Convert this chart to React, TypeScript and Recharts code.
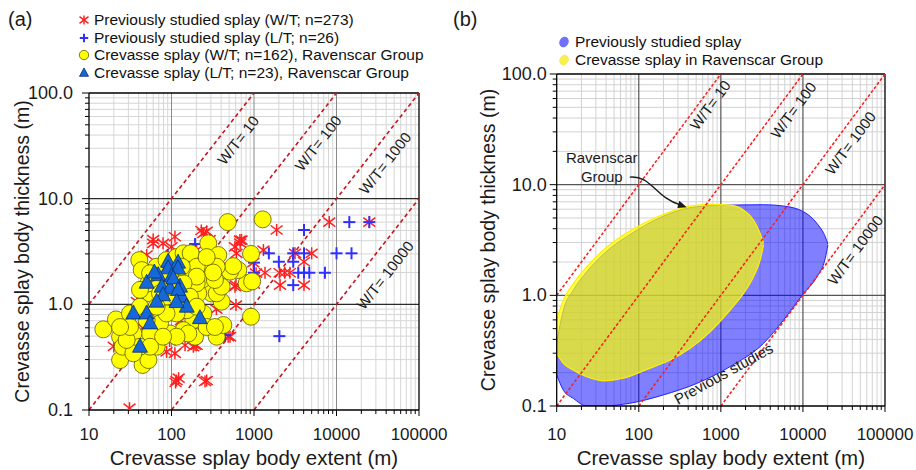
import React from 'react'
import {
  ScatterChart, ComposedChart, Scatter, Area, XAxis, YAxis, CartesianGrid,
  ReferenceLine, ReferenceDot, Legend, Label,
} from 'recharts'

const FONT = '"Liberation Sans", Arial, Helvetica, sans-serif'

// axes
const xDecades = [10, 100, 1000, 10000, 100000]
const xTickLabels = ['10', '100', '1000', '10000', '100000']
const yDecades = [0.1, 1, 10, 100]
const yTickLabels = ['0.1', '1.0', '10.0', '100.0']
const minorSteps = [2, 3, 4, 5, 6, 7, 8, 9]
const xMinor = xDecades.slice(0, -1).flatMap(d => minorSteps.map(m => d * m))
const yMinor = yDecades.slice(0, -1).flatMap(d => minorSteps.map(m => d * m))
const xTicks = [...xDecades, ...xMinor].sort((a, b) => a - b)
const yTicks = [...yDecades, ...yMinor].sort((a, b) => a - b)

// W/T ratio lines and their labels
const wtRatios = [10, 100, 1000, 10000]
const wtLabels = ['W/T= 10', 'W/T= 100', 'W/T= 1000', 'W/T= 10000']
const leftWtLabelX = [640, 5970, 38700, 38700]
const leftWtLabelY = [35.8, 33.6, 21.7, 1.89]
const rightWtLabelX = [741, 7620, 37800, 43400]
const rightWtLabelY = [52.4, 47.2, 23.8, 2.57]

// (a) previously studied splay, W/T
const prevWtExtent = [31, 115, 122, 112, 255, 267, 20, 87, 110, 146, 193, 184, 202, 512, 486, 605, 38, 605, 588, 1000,
  1360, 1060, 1300, 707, 675, 680, 588, 613, 1880, 2040, 2360, 2720, 3140, 5000, 4036, 2070, 4036, 8170, 25000, 980,
  60, 79, 110, 100, 243, 230, 267, 50, 55, 202, 31.4, 50, 60, 389, 290,
  120, 150, 90, 200, 70, 130, 250, 300, 170, 60, 45, 95, 350, 220, 140]
const prevWtThick = [0.104, 0.19, 0.2, 0.182, 0.186, 0.19, 0.4, 0.355, 0.344, 0.41, 0.41, 0.397, 0.41, 0.494, 0.494, 0.985, 1.06, 1.52, 1.47, 1.55,
  1.99, 1.97, 3.26, 4.06, 4.06, 3.8, 3.5, 3.04, 5.05, 1.99, 1.99, 1.99, 3.04, 3.04, 2.53, 1.52, 1.52, 6.0, 6.0, 2.48,
  3.78, 3.78, 4.36, 3.5, 4.7, 5.0, 4.9, 2.93, 2.27, 3.26, 0.355, 0.397, 4.1, 2.62, 4.1,
  2.2, 1.8, 1.5, 1.2, 0.9, 0.7, 0.6, 1.4, 2.6, 1.2, 0.6, 0.45, 0.9, 2.0, 1.0]

// (a) previously studied splay, L/T
const prevLtExtent = [193, 1000, 1000, 1514, 2000, 2990, 2990, 4036, 4036, 3440, 4036, 4680, 2990, 7240, 10000, 15200,
  14300, 25000, 2030, 445, 240, 330, 130, 520, 90, 300]
const prevLtThick = [3.72, 2.48, 1.99, 3.04, 2.53, 3.04, 2.53, 5.05, 3.04, 1.99, 1.99, 1.99, 1.52, 1.99, 3.04, 3.04,
  6.0, 6.0, 0.5, 0.51, 2.6, 1.75, 1.5, 2.2, 2.9, 0.62]

// (a) Ravenscar Group, W/T
const ravWtExtent = [14.9, 21.2, 23.8, 23.8, 25.6, 44.6, 52.5, 40.7, 43.5, 66, 193, 353, 425, 480, 1274, 920, 920, 815,
  950, 645, 512, 560, 405, 279, 369, 167, 232, 279, 306, 211, 243, 184, 153, 140, 96, 72.6, 55, 34.5, 31.4, 41.5,
  55, 52.5, 72.6, 87, 115, 115, 87, 66, 87, 115, 140, 171, 202, 153, 202, 353, 405, 336, 353, 320, 267, 202, 140,
  167, 202, 267, 336, 160, 115, 79, 41.5, 34.5, 28.6, 50, 66, 55, 31.4, 23.8, 96, 96, 133, 72.6, 41.5, 55]
const ravWtThick = [0.58, 0.72, 0.494, 0.297, 0.397, 0.267, 0.297, 2.62, 2.11, 0.397, 0.494, 0.494, 0.637, 6.0, 6.37, 3.0, 0.763, 1.58,
  1.65, 2.11, 2.04, 2.3, 1.06, 3.78, 2.93, 2.93, 2.44, 1.7, 1.27, 1.27, 0.82, 0.71, 0.88, 0.57, 0.53, 0.66, 0.53, 0.53, 0.82, 0.95,
  1.27, 1.58, 1.58, 1.18, 1.18, 0.82, 0.82, 2.27, 2.62, 2.8, 3.04, 3.04, 2.27, 1.83, 1.58, 1.27, 1.47, 1.7, 2.27, 2.0, 2.8, 1.83, 1.58,
  1.18, 0.95, 0.61, 0.61, 0.53, 0.494, 0.494, 0.397, 0.344, 0.46, 0.71, 0.95, 1.97, 0.61, 0.61, 1.47, 1.97, 2.27, 1.27, 1.37, 0.397]

// (a) Ravenscar Group, L/T
const ravLtExtent = [91, 120, 91, 120, 69, 100, 50, 76, 96, 127, 79, 133, 66, 153, 34.5, 50, 55, 221, 41.5, 105, 120, 62, 115]
const ravLtThick = [2.53, 2.48, 2.19, 2.19, 1.89, 1.83, 1.6, 1.47, 1.42, 1.47, 1.22, 1.18, 1.06, 0.95, 0.82, 0.82, 0.66, 0.74, 0.397, 1.76, 1.37, 2.0, 1.05]

// (b) outlines of the two fields: extent, then upper / lower thickness (null = not on this outline)
const fieldExtent = [10, 12.06, 15.97, 23.2, 37.1, 64.9, 78.4, 125, 200, 241, 422, 509, 740, 1298, 1888, 2500, 3013, 3311, 5805, 10180, 14800, 18700, 20160]
const ravHigh = [0.598, 0.907, 1.28, 1.81, 2.57, 3.5, null, 4.62, null, 5.69, 6.41, null, 6.63, 6.54, 5.9, 4.79, 3.63, 2.95, null, null, null, null, null]
const ravLow = [0.299, 0.243, 0.211, 0.184, 0.169, 0.178, null, 0.214, null, 0.26, 0.332, null, 0.469, 0.737, 1.04, 1.47, 2.08, 2.85, null, null, null, null, null]
const prevHigh = [0.368, 0.737, 1.12, 1.63, 2.36, null, 3.55, null, 5.2, null, null, 6.32, null, 6.54, null, null, null, 6.59, 6.41, 5.69, 4.47, 3.39, 2.91]
const prevLow = [0.191, 0.139, 0.117, 0.1, 0.1, null, 0.106, null, 0.126, null, null, 0.16, null, 0.227, null, null, null, 0.368, 0.598, 1.04, 1.47, 2.16, 2.85]

const leftLegendNames = [
  'Previously studied splay (W/T; n=273)',
  'Previously studied splay (L/T; n=26)',
  'Crevasse splay (W/T; n=162), Ravenscar Group',
  'Crevasse splay (L/T; n=23), Ravenscar Group',
]
const rightLegendNames = ['Previously studied splay', 'Crevasse splay in Ravenscar Group']

const pts = (xs: number[], ys: number[]) => xs.map((x, i) => ({ x, y: ys[i] }))
const fieldData = fieldExtent.map((x, i) => ({
  x,
  prev: prevHigh[i] == null ? undefined : [prevLow[i], prevHigh[i]],
  rav: ravHigh[i] == null ? undefined : [ravLow[i], ravHigh[i]],
}))

const wtSegment = (r: number) => {
  const x0 = Math.max(10, r * 0.1)
  const x1 = Math.min(100000, r * 100)
  return [{ x: x0, y: x0 / r }, { x: x1, y: x1 / r }]
}

// markers
const Star = ({ cx, cy, s = 1 }: any) => (
  <g stroke="#ff2020" strokeWidth={1.5}>
    <line x1={cx} y1={cy - 6 * s} x2={cx} y2={cy + 6 * s} />
    <line x1={cx - 6 * s} y1={cy - 4.5 * s} x2={cx + 6 * s} y2={cy + 4.5 * s} />
    <line x1={cx - 6 * s} y1={cy + 4.5 * s} x2={cx + 6 * s} y2={cy - 4.5 * s} />
  </g>
)
const Plus = ({ cx, cy, s = 1 }: any) => (
  <g stroke="#2f2fff" strokeWidth={2}>
    <line x1={cx - 6 * s} y1={cy} x2={cx + 6 * s} y2={cy} />
    <line x1={cx} y1={cy - 6 * s} x2={cx} y2={cy + 6 * s} />
  </g>
)
const Circle = ({ cx, cy, s = 1 }: any) => (
  <circle cx={cx} cy={cy} r={8.5 * s} fill="#ffff00" stroke="#5e5a00" strokeWidth={0.8} />
)
const Tri = ({ cx, cy, s = 1 }: any) => (
  <polygon
    points={`${cx},${cy - 8.5 * s} ${cx + 7.5 * s},${cy + 5.5 * s} ${cx - 7.5 * s},${cy + 5.5 * s}`}
    fill="#1668d8" stroke="#0b2d66" strokeWidth={0.8}
  />
)
const leftIcons = [Star, Plus, Circle, Tri]
const leftIconScale = [0.75, 0.7, 0.55, 0.6]
const rightIconColors = ['#7070ff', '#f7ef50']

// ticks
const makeXTick = (gap: number) => ({ x, y, payload }: any) => {
  const i = xDecades.indexOf(payload.value)
  return (
    <g>
      <line x1={x} x2={x} y1={y} y2={y + (i >= 0 ? 6 : 4)} stroke="#000" />
      {i >= 0 && (
        <text x={x} y={y + gap} textAnchor="middle" fontSize={17} fill="#1a1a1a" fontFamily={FONT}>
          {xTickLabels[i]}
        </text>
      )}
    </g>
  )
}
const makeYTick = (gap: number) => ({ x, y, payload }: any) => {
  const i = yDecades.indexOf(payload.value)
  return (
    <g>
      <line x1={x - (i >= 0 ? 7 : 4)} x2={x} y1={y} y2={y} stroke="#000" />
      {i >= 0 && (
        <text x={x - gap} y={y + 6} textAnchor="end" fontSize={18} fill="#1a1a1a" fontFamily={FONT}>
          {yTickLabels[i]}
        </text>
      )}
    </g>
  )
}

const XTitle = ({ viewBox, dy }: any) => (
  <text x={viewBox.x + viewBox.width / 2} y={viewBox.y + dy} textAnchor="middle" fontSize={20.5} fill="#1a1a1a" fontFamily={FONT}>
    Crevasse splay body extent (m)
  </text>
)
const YTitle = ({ viewBox, dx }: any) => {
  const cx = viewBox.x + dx
  const cy = viewBox.y + viewBox.height / 2
  return (
    <text x={cx} y={cy} transform={`rotate(-90 ${cx} ${cy})`} textAnchor="middle" dominantBaseline="central"
      fontSize={19.5} fill="#1a1a1a" fontFamily={FONT}>
      Crevasse splay body thickness (m)
    </text>
  )
}

const wtText = (label: string, angle: number) => (p: any) => (
  <text x={p.cx} y={p.cy} transform={`rotate(${-angle} ${p.cx} ${p.cy})`} textAnchor="middle"
    dominantBaseline="central" fontSize={15} fill="#1a1a1a" fontFamily={FONT}>
    {label}
  </text>
)

const LeftLegend = () => (
  <div style={{ fontFamily: FONT, fontSize: 15.5, color: '#111', lineHeight: '17.7px' }}>
    {leftLegendNames.map((name, i) => {
      const Icon = leftIcons[i]
      return (
        <div key={name} style={{ display: 'flex', alignItems: 'center', whiteSpace: 'nowrap' }}>
          <svg width={14} height={14} style={{ marginRight: 3 }}>
            <Icon cx={7} cy={7} s={leftIconScale[i]} />
          </svg>
          <span>{name}</span>
        </div>
      )
    })}
  </div>
)

const RightLegend = () => (
  <div style={{ fontFamily: FONT, fontSize: 15.5, color: '#111', lineHeight: '18px' }}>
    {rightLegendNames.map((name, i) => (
      <div key={name} style={{ display: 'flex', alignItems: 'center', whiteSpace: 'nowrap' }}>
        <svg width={13} height={14} style={{ marginRight: 4 }}>
          <ellipse cx={6} cy={7} rx={4.5} ry={5.5} transform="rotate(30 6 7)" fill={rightIconColors[i]} />
        </svg>
        <span>{name}</span>
      </div>
    ))}
  </div>
)

const RavenscarNote = ({ cx, cy }: any) => (
  <g fontFamily={FONT} fontSize={15} fill="#1a1a1a">
    <text x={cx} y={cy - 4} textAnchor="middle">Ravenscar</text>
    <text x={cx} y={cy + 15} textAnchor="middle">Group</text>
    <path d={`M ${cx + 28} ${cy + 10} C ${cx + 50} ${cy + 8}, ${cx + 53} ${cy + 30}, ${cx + 79} ${cy + 38}`}
      fill="none" stroke="#1a1a1a" strokeWidth={1.4} />
    <polygon points={`${cx + 85} ${cy + 40} ${cx + 75.6} ${cy + 40.8} ${cx + 77.6} ${cy + 33.6}`} fill="#1a1a1a" />
  </g>
)
const PreviousNote = ({ cx, cy }: any) => (
  <text x={cx} y={cy} transform={`rotate(-29 ${cx} ${cy})`} textAnchor="middle" dominantBaseline="central"
    fontSize={15} fill="#1a1a1a" fontFamily={FONT}>
    Previous studies
  </text>
)

const xAxisProps = {
  dataKey: 'x', type: 'number' as const, scale: 'log' as const, domain: [10, 100000], ticks: xTicks,
  interval: 0, tickLine: false, tickSize: 0, tickMargin: 0, height: 30, allowDataOverflow: true,
  axisLine: { stroke: '#000', strokeWidth: 1.3 },
}
const yAxisProps = {
  dataKey: 'y', type: 'number' as const, scale: 'log' as const, domain: [0.1, 100], ticks: yTicks,
  interval: 0, tickLine: false, tickSize: 0, tickMargin: 0, width: 60, allowDataOverflow: true,
  axisLine: { stroke: '#000', strokeWidth: 1.3 },
}

function LeftPanel() {
  return (
    <ScatterChart width={460} height={470} margin={{ top: 93, right: 41, bottom: 30, left: 29 }} style={{ fontFamily: FONT }}>
      <CartesianGrid stroke="#d6d6d6" horizontalValues={yMinor} verticalValues={xMinor} />
      <CartesianGrid stroke="#8a8a8a" horizontal={false} verticalValues={[100, 1000, 10000]} />
      <CartesianGrid stroke="#2a2a2a" strokeWidth={1.4} vertical={false} horizontalValues={[1, 10]} />
      <XAxis {...xAxisProps} tick={makeXTick(30)}>
        <Label content={<XTitle dy={55} />} />
      </XAxis>
      <YAxis {...yAxisProps} tick={makeYTick(16)}>
        <Label content={<YTitle dx={-7} />} />
      </YAxis>
      <ReferenceLine y={100} stroke="#000" strokeWidth={1.3} />
      <ReferenceLine x={100000} stroke="#000" strokeWidth={1.3} />
      <Scatter name={leftLegendNames[0]} data={pts(prevWtExtent, prevWtThick)} shape={Star} isAnimationActive={false} />
      <Scatter name={leftLegendNames[1]} data={pts(prevLtExtent, prevLtThick)} shape={Plus} isAnimationActive={false} />
      <Scatter name={leftLegendNames[2]} data={pts(ravWtExtent, ravWtThick)} shape={Circle} isAnimationActive={false} />
      <Scatter name={leftLegendNames[3]} data={pts(ravLtExtent, ravLtThick)} shape={Tri} isAnimationActive={false} />
      {wtRatios.map(r => (
        <ReferenceLine key={r} segment={wtSegment(r)} stroke="#c8141c" strokeWidth={1.6} strokeDasharray="4 3" />
      ))}
      {wtLabels.map((t, i) => (
        <ReferenceDot key={t} x={leftWtLabelX[i]} y={leftWtLabelY[i]} r={1} shape={wtText(t, 52)} />
      ))}
      <Legend layout="vertical" align="center" verticalAlign="middle" content={<LeftLegend />}
        wrapperStyle={{ left: 77, top: 11, width: 'auto' }} />
    </ScatterChart>
  )
}

function RightPanel() {
  return (
    <ComposedChart width={456} height={470} data={fieldData} margin={{ top: 74, right: 31, bottom: 34, left: 36.7 }}
      style={{ fontFamily: FONT }}>
      <CartesianGrid stroke="#d2d2d2" horizontalValues={yMinor} verticalValues={xMinor} />
      <CartesianGrid stroke="#555" strokeWidth={1.2} horizontalValues={[1, 10]} verticalValues={[100, 1000, 10000]} />
      <XAxis {...xAxisProps} tick={makeXTick(34)}>
        <Label content={<XTitle dy={59} />} />
      </XAxis>
      <YAxis {...yAxisProps} tick={makeYTick(10)}>
        <Label content={<YTitle dx={-9} />} />
      </YAxis>
      <ReferenceLine y={100} stroke="#000" strokeWidth={1.3} />
      <ReferenceLine x={100000} stroke="#000" strokeWidth={1.3} />
      <Area name={rightLegendNames[0]} dataKey="prev" type="monotone" connectNulls fill="#0000ff" fillOpacity={0.5}
        stroke="#2222ff" strokeWidth={1} dot={false} activeDot={false} isAnimationActive={false} />
      <Area name={rightLegendNames[1]} dataKey="rav" type="monotone" connectNulls fill="#ffff00" fillOpacity={0.7}
        stroke="#ffee00" strokeWidth={1.2} dot={false} activeDot={false} isAnimationActive={false} />
      {wtRatios.map(r => (
        <ReferenceLine key={r} segment={wtSegment(r)} stroke="#ff1a1a" strokeWidth={1.5} strokeDasharray="3 2" />
      ))}
      {wtLabels.map((t, i) => (
        <ReferenceDot key={t} x={rightWtLabelX[i]} y={rightWtLabelY[i]} r={1} shape={wtText(t, 53.5)} />
      ))}
      <ReferenceDot x={35.4} y={14.4} r={1} shape={RavenscarNote} />
      <ReferenceDot x={1076} y={0.197} r={1} shape={PreviousNote} />
      <Legend layout="vertical" align="center" verticalAlign="middle" content={<RightLegend />}
        wrapperStyle={{ left: 98, top: 33, width: 'auto' }} />
    </ComposedChart>
  )
}

export default function App() {
  return (
    <div style={{ position: 'absolute', left: 0, top: 0, width: 916, height: 470, background: '#fff', fontFamily: FONT }}>
      <div style={{ position: 'absolute', left: 0, top: 0 }}>
        <LeftPanel />
      </div>
      <div style={{ position: 'absolute', left: 460, top: 0 }}>
        <RightPanel />
      </div>
      <div style={{ position: 'absolute', left: 8, top: 8, fontSize: 20, color: '#1a1a1a' }}>(a)</div>
      <div style={{ position: 'absolute', left: 453, top: 8, fontSize: 20, color: '#1a1a1a' }}>(b)</div>
    </div>
  )
}
